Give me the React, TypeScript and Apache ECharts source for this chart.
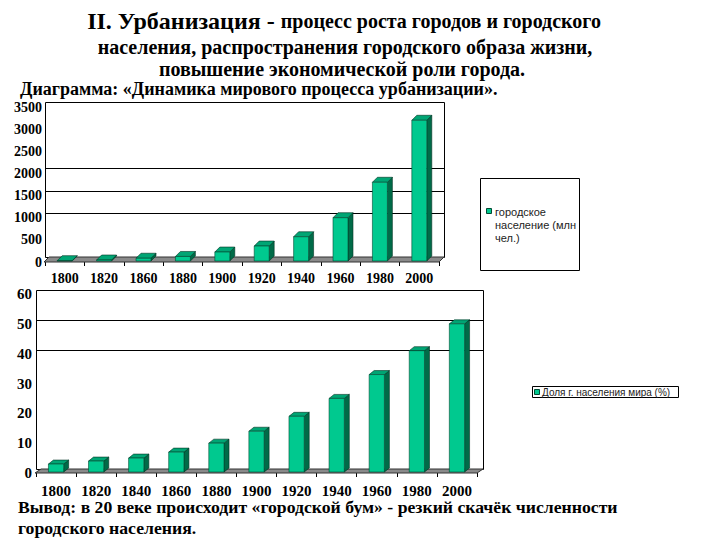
import React, { useEffect, useRef } from "react";
import * as echarts from "echarts";

const topYears = ["1800", "1820", "1860", "1880", "1900", "1920", "1940", "1960", "1980", "2000"];
const topValues = [30, 45, 85, 125, 225, 360, 570, 1000, 1800, 3200];
const topWallLines = [1000, 1500, 2000];
const topMax = 3500;
const topStep = 500;

const bottomYears = ["1800", "1820", "1840", "1860", "1880", "1900", "1920", "1940", "1960", "1980", "2000"];
const bottomValues = [3, 4, 5, 7, 10, 14, 19, 25, 33, 41, 50];
const bottomWallLines = [40, 50];
const bottomMax = 60;
const bottomStep = 10;

const titleLines = [
  "населения, распространения городского образа жизни,",
  "повышение экономической роли города.",
];
const topLegendLines = ["городское", "население (млн", "чел.)"];
const bottomLegend = "Доля г. населения мира (%)";

const FRONT = "#00c98f";
const TOPC = "#00a574";
const SIDE = "#006b48";
const SERIF = "'Liberation Serif', 'Times New Roman', serif";
const SANS = "'Liberation Sans', Arial, sans-serif";

function wallItem(n: number, max: number, lines: number[], dx: number, dy: number) {
  return (params: any, api: any) => {
    const band = api.size([1, 0])[0];
    const c0 = api.coord([0, 0]);
    const cN = api.coord([n - 1, 0]);
    const L = c0[0] - band / 2;
    const R = cN[0] + band / 2;
    const y0 = c0[1];
    const yT = api.coord([0, max])[1];
    const children: any[] = [
      {
        type: "rect",
        shape: { x: Math.round(L) + 0.5, y: Math.round(yT - dy) + 0.5, width: Math.round(R + dx - L), height: Math.round(y0 - yT) },
        style: { fill: "#fff", stroke: "#000", lineWidth: 1 },
      },
    ];
    lines.forEach((v) => {
      const y = Math.round(api.coord([0, v])[1] - dy) + 0.5;
      children.push({
        type: "line",
        shape: { x1: L, y1: y, x2: R + dx, y2: y },
        style: { stroke: "#000", lineWidth: 1 },
      });
    });
    children.push({
      type: "polygon",
      shape: { points: [[L - 1, y0], [R, y0], [R + dx, y0 - dy], [L + dx - 1, y0 - dy]] },
      style: { fill: "#8a8a8a", stroke: "#333", lineWidth: 1 },
    });
    return { type: "group", children };
  };
}

function barItem(dx: number, dy: number, frac: number) {
  return (params: any, api: any) => {
    const i = api.value(0);
    const v = api.value(1);
    const base = api.coord([i, 0]);
    const top = api.coord([i, v]);
    const band = api.size([1, 0])[0];
    const w = band * frac;
    const x0 = base[0] - w / 2;
    const x1 = x0 + w;
    const yb = base[1] - 1;
    const yt = top[1];
    return {
      type: "group",
      children: [
        {
          type: "polygon",
          shape: { points: [[x1, yt], [x1 + dx, yt - dy], [x1 + dx, yb - dy], [x1, yb]] },
          style: { fill: SIDE, stroke: "#003322", lineWidth: 0.6 },
        },
        {
          type: "polygon",
          shape: { points: [[x0, yt], [x0 + dx, yt - dy], [x1 + dx, yt - dy], [x1, yt]] },
          style: { fill: TOPC, stroke: "#003322", lineWidth: 0.6 },
        },
        {
          type: "rect",
          shape: { x: x0, y: yt, width: w, height: yb - yt },
          style: { fill: FRONT, stroke: "#004a32", lineWidth: 0.6 },
        },
      ],
    };
  };
}

export default function App() {
  const ref = useRef<HTMLDivElement>(null);
  useEffect(() => {
    const chart = echarts.init(ref.current!, undefined, { renderer: "svg" });
    const axisLabelBase = { fontFamily: SERIF, fontWeight: "bold" as const, color: "#000" };
    const plain = (v: number) => String(v);
    chart.setOption({
      animation: false,
      backgroundColor: "#fff",
      grid: [
        { left: 45, top: 107, width: 394, height: 155 },
        { left: 36, top: 294, width: 441, height: 179 },
      ],
      xAxis: [
        {
          type: "category",
          gridIndex: 0,
          data: topYears,
          axisLine: { show: false },
          axisTick: { show: true, length: 4, lineStyle: { color: "#000" } },
          axisLabel: { ...axisLabelBase, fontSize: 14, margin: 9 },
          splitLine: { show: false },
        },
        {
          type: "category",
          gridIndex: 1,
          data: bottomYears,
          axisLine: { show: false },
          axisTick: { show: true, length: 4, lineStyle: { color: "#000" } },
          axisLabel: { ...axisLabelBase, fontSize: 15, margin: 10 },
          splitLine: { show: false },
        },
      ],
      yAxis: [
        {
          type: "value",
          gridIndex: 0,
          min: 0,
          max: topMax,
          interval: topStep,
          axisLine: { show: false },
          axisTick: { show: false },
          splitLine: { show: false },
          axisLabel: { ...axisLabelBase, fontSize: 14, margin: 3, formatter: plain },
        },
        {
          type: "value",
          gridIndex: 1,
          min: 0,
          max: bottomMax,
          interval: bottomStep,
          axisLine: { show: false },
          axisTick: { show: false },
          splitLine: { show: false },
          axisLabel: { ...axisLabelBase, fontSize: 15, margin: 4, formatter: plain },
        },
      ],
      series: [
        {
          type: "custom",
          xAxisIndex: 0,
          yAxisIndex: 0,
          data: [[0, 0]],
          encode: { x: 0, y: 1 },
          renderItem: wallItem(topYears.length, topMax, topWallLines, 5, 5),
          silent: true,
        },
        {
          type: "custom",
          xAxisIndex: 0,
          yAxisIndex: 0,
          data: topValues.map((v, i) => [i, v]),
          encode: { x: 0, y: 1 },
          renderItem: barItem(5, 5, 0.38),
        },
        {
          type: "custom",
          xAxisIndex: 1,
          yAxisIndex: 1,
          data: [[0, 0]],
          encode: { x: 0, y: 1 },
          renderItem: wallItem(bottomYears.length, bottomMax, bottomWallLines, 6, 4),
          silent: true,
        },
        {
          type: "custom",
          xAxisIndex: 1,
          yAxisIndex: 1,
          data: bottomValues.map((v, i) => [i, v]),
          encode: { x: 0, y: 1 },
          renderItem: barItem(5, 4, 0.38),
        },
      ],
      graphic: [
        {
          type: "text",
          x: 344,
          y: 21,
          style: {
            text: "{a|II. Урбанизация - }{b|процесс роста городов и городского}",
            align: "center",
            verticalAlign: "middle",
            rich: {
              a: { fontFamily: SERIF, fontWeight: "bold", fontSize: 24, fill: "#000" },
              b: { fontFamily: SERIF, fontWeight: "bold", fontSize: 20, fill: "#000" },
            },
          },
        },
        {
          type: "text",
          x: 345,
          y: 47,
          style: { text: titleLines[0], align: "center", verticalAlign: "middle", fontFamily: SERIF, fontWeight: "bold", fontSize: 20, fill: "#000" },
        },
        {
          type: "text",
          x: 342,
          y: 69,
          style: { text: titleLines[1], align: "center", verticalAlign: "middle", fontFamily: SERIF, fontWeight: "bold", fontSize: 20, fill: "#000" },
        },
        {
          type: "text",
          x: 20,
          y: 89,
          style: { text: "Диаграмма: «Динамика мирового процесса урбанизации».", align: "left", verticalAlign: "middle", fontFamily: SERIF, fontWeight: "bold", fontSize: 18, fill: "#000" },
        },
        {
          type: "rect",
          shape: { x: 480.5, y: 178.5, width: 99, height: 92 },
          style: { fill: "#fff", stroke: "#000", lineWidth: 1 },
        },
        {
          type: "rect",
          shape: { x: 486.5, y: 208.5, width: 5, height: 5 },
          style: { fill: FRONT, stroke: "#004a32", lineWidth: 1 },
        },
        ...topLegendLines.map((t, k) => ({
          type: "text",
          x: 495,
          y: 212 + k * 13,
          style: { text: t, align: "left", verticalAlign: "middle", fontFamily: SANS, fontSize: 11, fill: "#222" },
        })),
        {
          type: "rect",
          shape: { x: 532.5, y: 386.5, width: 146, height: 11 },
          style: { fill: "#fff", stroke: "#000", lineWidth: 1 },
        },
        {
          type: "rect",
          shape: { x: 534.5, y: 389.5, width: 5, height: 5 },
          style: { fill: FRONT, stroke: "#004a32", lineWidth: 1 },
        },
        {
          type: "text",
          x: 542,
          y: 392.5,
          style: { text: bottomLegend, align: "left", verticalAlign: "middle", fontFamily: SANS, fontSize: 10, fill: "#222" },
        },
        {
          type: "text",
          x: 18,
          y: 507,
          style: { text: "Вывод: в 20 веке происходит «городской бум» - резкий скачёк численности", align: "left", verticalAlign: "middle", fontFamily: SERIF, fontWeight: "bold", fontSize: 17.7, fill: "#000" },
        },
        {
          type: "text",
          x: 18,
          y: 528,
          style: { text: "городского населения.", align: "left", verticalAlign: "middle", fontFamily: SERIF, fontWeight: "bold", fontSize: 17.7, fill: "#000" },
        },
      ],
    });
    return () => chart.dispose();
  }, []);
  return <div ref={ref} style={{ position: "absolute", left: 0, top: 0, width: 720, height: 540 }} />;
}
